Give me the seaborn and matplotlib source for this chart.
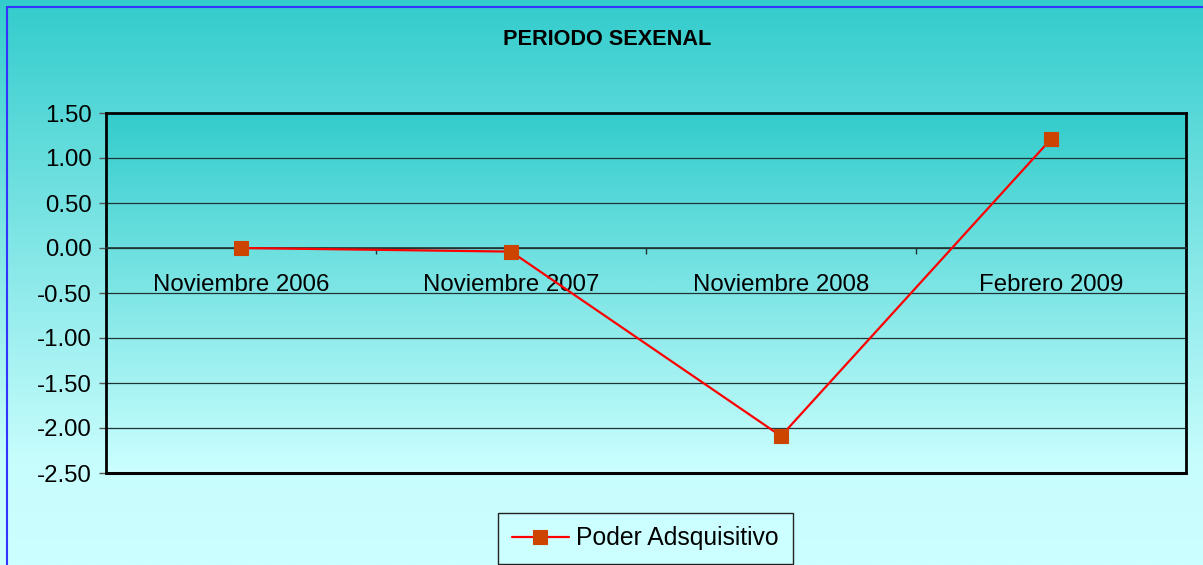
import numpy as np
import pandas as pd
import matplotlib
matplotlib.use("Agg")
import matplotlib.pyplot as plt
import seaborn as sns
from matplotlib.colors import LinearSegmentedColormap
from matplotlib.lines import Line2D
from matplotlib.ticker import FixedLocator

# ---- data ----
periodos = ["Noviembre 2006", "Noviembre 2007", "Noviembre 2008", "Febrero 2009"]
poder_adquisitivo = [0.00, -0.04, -2.09, 1.21]
serie = "Poder Adsquisitivo"
titulo = "PERIODO SEXENAL"
y_ticks = [-2.50, -2.00, -1.50, -1.00, -0.50, 0.00, 0.50, 1.00, 1.50]

sns.set_style("white")
plt.rcParams["font.family"] = ["Liberation Sans", "DejaVu Sans"]
plt.rcParams["text.color"] = "black"

W, H = 1203, 565
fig = plt.figure(figsize=(W / 100, H / 100), dpi=100)

# figure background gradient
bg = fig.add_axes([0, 0, 1, 1], zorder=-10)
cmap_fig = LinearSegmentedColormap.from_list(
    "figbg", [(0, "#33CCCC"), (0.82, "#C8FDFD"), (1, "#CCFFFF")])
grad = np.linspace(0, 1, 512).reshape(-1, 1)
bg.imshow(grad, cmap=cmap_fig, aspect="auto", extent=[0, 1, 0, 1], origin="upper")
bg.set_xlim(0, 1)
bg.set_ylim(0, 1)
bg.axis("off")

# main axes
ax = fig.add_axes([106 / W, (H - 473) / H, 1080 / W, 360 / H])
ax.set_facecolor("none")
cmap_ax = LinearSegmentedColormap.from_list("axbg", ["#33CCCC", "#CCFFFF"])
ax.imshow(grad, cmap=cmap_ax, aspect="auto", extent=[0, 1, 0, 1], origin="upper",
          transform=ax.transAxes, zorder=0)

df = pd.DataFrame({"Periodo": periodos, "Valor": poder_adquisitivo})
sns.lineplot(data=df, x="Periodo", y="Valor", ax=ax, sort=False,
             color="#FF0000", linewidth=1.6, marker="s", markersize=9.5,
             markerfacecolor="#CC4400", markeredgecolor="#CC4400",
             markeredgewidth=0.8, label=serie, zorder=5)

ax.set_xlim(-0.5, 3.5)
ax.set_ylim(-2.5, 1.5)
ax.set_yticks(y_ticks)
ax.set_yticklabels([f"{v:.2f}" for v in y_ticks])
ax.set_xlabel("")
ax.set_ylabel("")

ax.yaxis.grid(True, color="#1f3535", linewidth=0.9, zorder=1)
ax.xaxis.grid(False)
ax.set_axisbelow(True)

for s in ["left", "top", "right"]:
    ax.spines[s].set_visible(True)
    ax.spines[s].set_color("black")
    ax.spines[s].set_linewidth(2)
ax.spines["bottom"].set_position(("data", 0))
ax.spines["bottom"].set_color("#1f3535")
ax.spines["bottom"].set_linewidth(1.2)
ax.plot([0, 1], [0, 0], transform=ax.transAxes, color="black", lw=2.2,
        clip_on=False, zorder=6)

ax.tick_params(axis="y", direction="out", length=5, width=1, color="#555555",
               pad=5, labelsize=17.3, labelcolor="black", left=True)
ax.tick_params(axis="x", which="major", length=0, pad=18.5, labelsize=17.3,
               labelcolor="black", bottom=True)
ax.xaxis.set_minor_locator(FixedLocator([0.5, 1.5, 2.5]))
ax.tick_params(axis="x", which="minor", direction="out", length=4, width=1,
               color="#1f3535", bottom=True)

fig.text(607 / W, 1 - 39.5 / H, titulo, ha="center", va="center",
         fontweight="bold", fontsize=15.6, color="black")

leg = ax.legend(loc="center", bbox_to_anchor=(645.5 / W, 1 - 538.5 / H),
                bbox_transform=fig.transFigure, frameon=True, fancybox=False,
                framealpha=1, facecolor="#CCFFFF", edgecolor="#222222",
                fontsize=17.8, handlelength=2.3, handletextpad=0.3,
                borderpad=0.55, labelcolor="black")
leg.get_frame().set_linewidth(1.0)

# blue figure border (top and left)
fig.add_artist(Line2D([7 / W, 7 / W], [0, 1 - 6.5 / H], transform=fig.transFigure,
                      color="#3333FF", lw=1.5))
fig.add_artist(Line2D([7 / W, 1], [1 - 6.5 / H, 1 - 6.5 / H],
                      transform=fig.transFigure, color="#3333FF", lw=1.5))

fig.savefig("out.png", dpi=100)
